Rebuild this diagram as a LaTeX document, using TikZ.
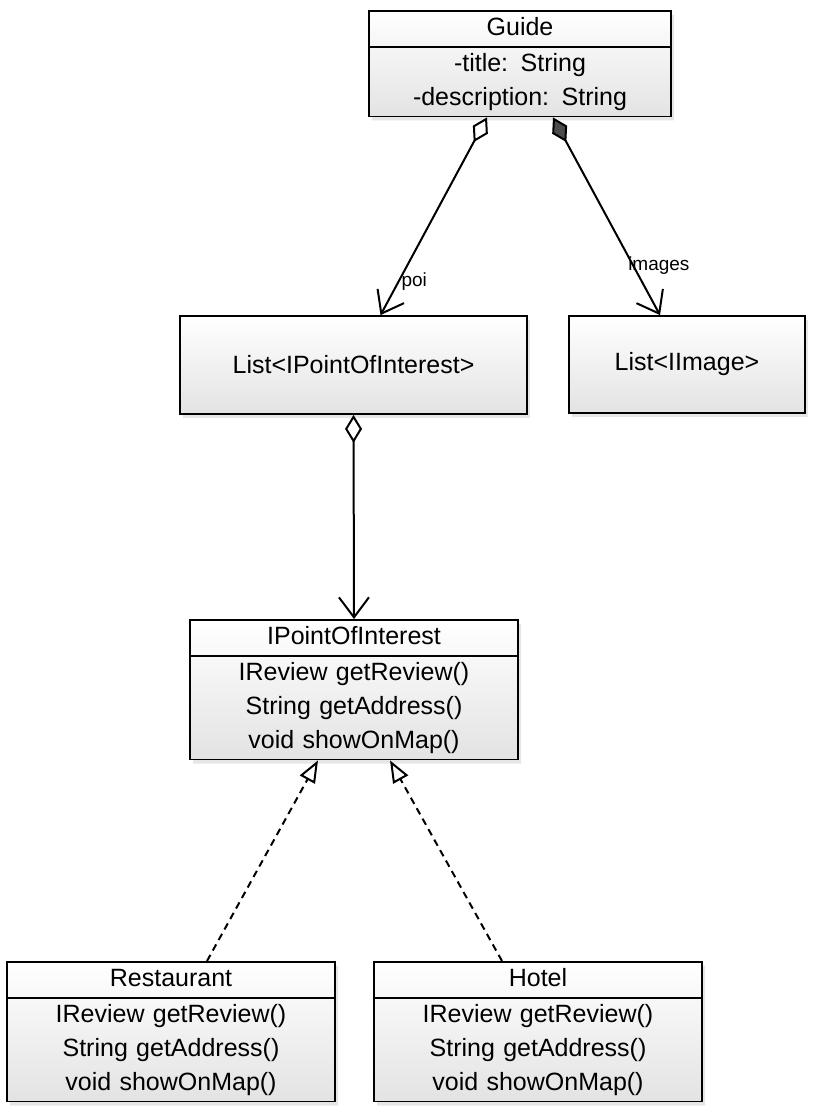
\documentclass[tikz,border=0pt]{standalone}
\usepackage{fontspec}
\setmainfont{Liberation Sans}
\usetikzlibrary{shapes.multipart,arrows.meta,shadows}

\tikzset{
  sketch/.style={draw=black, line width=1.8pt, top color=white, bottom color=gray!22,
    drop shadow={opacity=0.2, shadow xshift=3pt, shadow yshift=-4pt}},
  classbox/.style={sketch, rectangle split, rectangle split parts=2, align=center,
    inner xsep=6pt, inner ysep=0pt, font=\fontsize{25}{34}\selectfont},
  listbox/.style={sketch, inner sep=4pt, font=\fontsize{25}{34}\selectfont},
  lbl/.style={font=\fontsize{19}{22}\selectfont, inner sep=2pt},
  conn/.style={line width=2pt},
  aggr/.style={conn, {Diamond[fill=white, length=28pt, width=17pt]}-{Straight Barb[length=20pt, width=30pt]}},
  comp/.style={conn, {Diamond[fill=gray!60!black, length=28pt, width=17pt]}-{Straight Barb[length=20pt, width=30pt]}},
  realize/.style={conn, dash pattern=on 7pt off 5pt, -{Triangle[open, fill=white, length=22pt, width=17pt]}}
}

\begin{document}
\begin{tikzpicture}[x=1pt, y=-1pt]
\useasboundingbox (0,0) rectangle (812,1107);

%classes
\node[classbox, anchor=north, text width=290pt] (guide) at (520,10)
  {\strut Guide\nodepart{second}\strut -title: String\\\strut -description: String};

\node[listbox, minimum width=347pt, minimum height=98pt] (poilist) at (353.5,365) {List<IPointOfInterest>};
\node[listbox, minimum width=236pt, minimum height=97pt] (imglist) at (687,364.5) {List<IImage>};

\node[classbox, anchor=north, text width=316pt] (ipoi) at (354,619)
  {\strut IPointOfInterest\nodepart{second}\strut IReview getReview()\\\strut String getAddress()\\\strut void showOnMap()};

\node[classbox, anchor=north, text width=316pt] (restaurant) at (171,961)
  {\strut Restaurant\nodepart{second}\strut IReview getReview()\\\strut String getAddress()\\\strut void showOnMap()};
\node[classbox, anchor=north, text width=316pt] (hotel) at (538,961)
  {\strut Hotel\nodepart{second}\strut IReview getReview()\\\strut String getAddress()\\\strut void showOnMap()};

%associations
\draw[aggr] ([xshift=-33pt]guide.south) -- node[pos=0.83, right, lbl] {poi} ([xshift=27pt]poilist.north);
\draw[comp] ([xshift=33pt]guide.south) -- node[pos=0.75, anchor=west, xshift=-8pt, lbl] {images} ([xshift=-27pt]imglist.north);
\draw[aggr] (poilist.south) -- (ipoi.north);

%realizations
\draw[realize] ([xshift=36pt]restaurant.north) -- ([xshift=-36pt]ipoi.south);
\draw[realize] ([xshift=-36pt]hotel.north) -- ([xshift=36pt]ipoi.south);
\end{tikzpicture}
\end{document}
